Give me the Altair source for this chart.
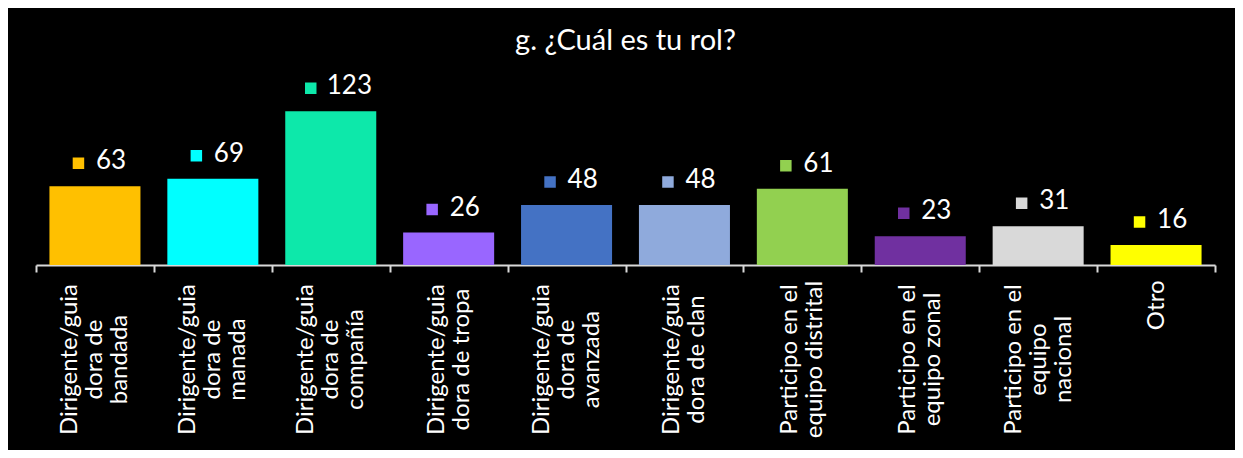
import altair as alt
import pandas as pd

categories = [
    "Dirigente/guia\ndora de\nbandada",
    "Dirigente/guia\ndora de\nmanada",
    "Dirigente/guia\ndora de\ncompañía",
    "Dirigente/guia\ndora de tropa",
    "Dirigente/guia\ndora de\navanzada",
    "Dirigente/guia\ndora de clan",
    "Participo en el\nequipo distrital",
    "Participo en el\nequipo zonal",
    "Participo en el\nequipo\nnacional",
    "Otro",
]
values = [63, 69, 123, 26, 48, 48, 61, 23, 31, 16]
colors = ["#FFC000", "#00FFFF", "#0DE8AA", "#9966FF", "#4472C4",
          "#8FAADC", "#92D050", "#7030A0", "#D9D9D9", "#FFFF00"]
title = "g. ¿Cuál es tu rol?"

df = pd.DataFrame({"cat": categories, "v": values})

FONT = "Lato"
NLINES = "length(split(datum.label, '\\n'))"

x = alt.X(
    "cat:N",
    sort=None,
    title=None,
    scale=alt.Scale(paddingInner=0, paddingOuter=0),
    axis=alt.Axis(
        labelAngle=-90,
        labelAlign={"condition": {"test": NLINES + " == 1", "value": "right"}, "value": "center"},
        labelBaseline="middle",
        labelExpr="split(datum.label, '\\n')",
        labelLineHeight=25,
        labelFontSize=24,
        labelFont=FONT,
        labelColor="white",
        labelPadding={"condition": {"test": NLINES + " == 1", "value": 8}, "value": 87},
        labelOffset={"condition": [
            {"test": NLINES + " == 3", "value": -25},
            {"test": NLINES + " == 2", "value": -12.5},
        ], "value": 0},
        tickBand="extent",
        tickSize=7,
        tickWidth=2,
        tickColor="#D9D9D9",
        domainColor="#D9D9D9",
        domainWidth=2,
        labelOverlap=False,
        labelLimit=0,
        labelBound=False,
        grid=False,
    ),
)
y = alt.Y("v:Q", scale=alt.Scale(domain=[0, 164], nice=False), axis=None)
color = alt.Color("cat:N", scale=alt.Scale(domain=categories, range=colors), legend=None)

base = alt.Chart(df)

bars = base.mark_bar(width=alt.RelativeBandSize(0.772)).encode(x=x, y=y, color=color)

two = base.transform_filter("datum.v < 100")
three = base.transform_filter("datum.v >= 100")

sq2 = two.mark_square(size=132, opacity=1, xOffset=-16.5, yOffset=-23).encode(x=x, y=y, color=color)
tx2 = two.mark_text(align="left", baseline="middle", dx=1, dy=-25, fontSize=26, font=FONT, color="white").encode(
    x=x, y=y, text="v:Q")
sq3 = three.mark_square(size=132, opacity=1, xOffset=-20, yOffset=-23).encode(x=x, y=y, color=color)
tx3 = three.mark_text(align="left", baseline="middle", dx=-4, dy=-25, fontSize=26, font=FONT, color="white").encode(
    x=x, y=y, text="v:Q")

chart = (
    alt.layer(bars, sq2, tx2, sq3, tx3)
    .properties(
        width=1179,
        height=205,
        title=alt.TitleParams(title, fontSize=29, font=FONT, color="white", fontWeight="normal", offset=4),
        background="black",
        padding={"left": 28, "right": 20, "top": 52, "bottom": 185},
        autosize=alt.AutoSizeParams(type="none"),
    )
    .configure_view(stroke=None)
)

chart.save("out.html", embed_options={"renderer": "svg", "actions": False})
